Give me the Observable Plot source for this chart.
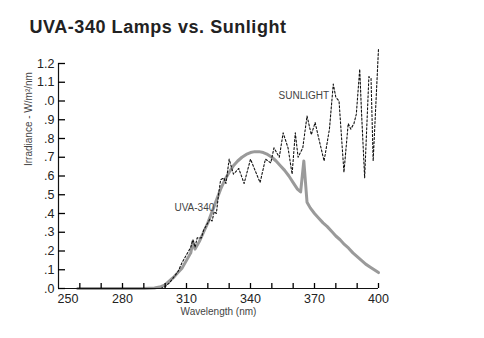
<!DOCTYPE html>
<html><head><meta charset="utf-8">
<script src="https://cdn.jsdelivr.net/npm/d3@7"></script>
<script src="https://cdn.jsdelivr.net/npm/@observablehq/plot@0.6"></script>
<style>
body{margin:0;background:#fff;font-family:"Liberation Sans",Arial,sans-serif;}
#title{height:45px;box-sizing:border-box;padding:18px 0 0 29.5px;font-size:18px;line-height:18px;font-weight:bold;color:#222;letter-spacing:0.55px;}
</style></head><body>
<div id="title">UVA-340 Lamps vs. Sunlight</div>
<div id="chart"></div>
<script>
const uvaWavelength = [259,270,280,290,295,298,300,302,304,306,308,310,312,313,314,316,318,320,322,324,326,328,330,332,334,336,338,340,342,344,346,348,350,352,354,356,358,360,362,363.5,365,366.5,368,370,372,374,376,378,380,382,384,386,388,390,392,394,396,398,400];
const uvaIrradiance = [0,0,0,0,0.003,0.01,0.02,0.04,0.06,0.085,0.11,0.15,0.19,0.25,0.21,0.25,0.30,0.35,0.41,0.47,0.53,0.58,0.62,0.655,0.68,0.70,0.715,0.725,0.73,0.73,0.725,0.715,0.70,0.68,0.655,0.63,0.60,0.565,0.53,0.515,0.68,0.46,0.43,0.40,0.375,0.35,0.33,0.305,0.28,0.26,0.235,0.215,0.19,0.17,0.15,0.13,0.115,0.10,0.085];
const sunWavelength = [298,300,302,304,306,308,310,312,313,314,315,317,318,320,321,322,323,324,325,326,327.5,328.5,330,332,334.5,337,340,342.5,344.5,347,349.5,351,353.5,355.3,357.6,359.5,361,362.3,364.5,366.5,368.5,370.3,372,374.5,377,378.8,380,381.5,383.8,385.8,387,388.5,389.6,391.2,392,393.5,395.5,396.5,397.5,400];
const sunIrradiance = [0,0.01,0.03,0.06,0.09,0.14,0.18,0.22,0.26,0.22,0.27,0.27,0.31,0.35,0.37,0.36,0.41,0.40,0.50,0.58,0.59,0.56,0.69,0.61,0.64,0.56,0.69,0.62,0.565,0.69,0.67,0.75,0.70,0.83,0.75,0.61,0.83,0.70,0.75,0.92,0.82,0.885,0.80,0.68,0.85,1.09,1.02,1.00,0.62,0.88,0.85,0.88,0.93,1.17,0.95,0.59,1.13,1.12,0.68,1.28];
const xTicks = [260,270,280,290,300,310,320,330,340,350,360,370,380,390,400];
const xFirstLabel = [250];
const xLabelTicks = [280,310,340,370,400];
const yTicks = [0,0.1,0.2,0.3,0.4,0.5,0.6,0.7,0.8,0.9,1.0,1.1,1.2];
const yTickLabels = [".0",".1",".2",".3",".4",".5",".6",".7",".8",".9",".0","1.1","1.2"];
const seriesLabels = ["UVA-340","SUNLIGHT"];
const seriesLabelX = [313.7,365];
const seriesLabelY = [0.43,1.03];
const xTitle = "Wavelength (nm)";
const yTitle = "Irradiance - W/m²/nm";

const uva = uvaWavelength.map((w,i)=>({w, v: uvaIrradiance[i]}));
const sun = sunWavelength.map((w,i)=>({w, v: sunIrradiance[i]}));
const labels = seriesLabels.map((t,i)=>({t, x: seriesLabelX[i], y: seriesLabelY[i]}));

const W = 484, H = 293, mT = 18, mB = 50, mL = 58, mR = 106;
const frameW = W - mL - mR, frameH = H - mT - mB;

const chart = Plot.plot({
  width: W, height: H,
  marginTop: mT, marginBottom: mB, marginLeft: mL, marginRight: mR,
  style: {fontFamily: "'Liberation Sans', Arial, sans-serif", background: "#fff", color: "#222"},
  x: {domain: [250,400]},
  y: {domain: [0,1.2]},
  marks: [
    Plot.axisX({ticks: xFirstLabel, tickSize: 0, tickPadding: 6, textAnchor: "start", dx: -1, fontSize: 12.5, label: null}),
    Plot.axisX({ticks: xLabelTicks, tickSize: 0, tickPadding: 6, fontSize: 12.5, label: null}),
    Plot.axisY({ticks: yTicks, tickSize: 0, tickPadding: 4, fontSize: 12.5, label: null,
      tickFormat: d => yTickLabels[yTicks.indexOf(d)]}),
    Plot.line(uva, {x: "w", y: "v", stroke: "#9a9a9a", strokeWidth: 3}),
    Plot.line(sun, {x: "w", y: "v", stroke: "#111", strokeWidth: 1.1, strokeDasharray: "2,2"}),
    Plot.ruleY([0], {stroke: "#111", strokeWidth: 1.2}),
    Plot.ruleX([250], {stroke: "#111", strokeWidth: 1.2}),
    Plot.tickX(xTicks, {x: d => d, insetTop: frameH - 5, stroke: "#000", strokeWidth: 1.3}),
    Plot.tickY(yTicks, {y: d => d, insetRight: frameW - 7, stroke: "#000", strokeWidth: 1.3}),
    Plot.text(labels, {x: "x", y: "y", text: "t", fill: "#444", fontSize: 10}),
    Plot.text([yTitle], {text: d => d, frameAnchor: "left", rotate: -90, dx: -30, dy: -10, fontSize: 10, fill: "#444"}),
    Plot.text([xTitle], {text: d => d, frameAnchor: "bottom", dy: 26, fontSize: 10, fill: "#444"})
  ]
});
document.getElementById("chart").appendChild(chart);
</script>
</body></html>
